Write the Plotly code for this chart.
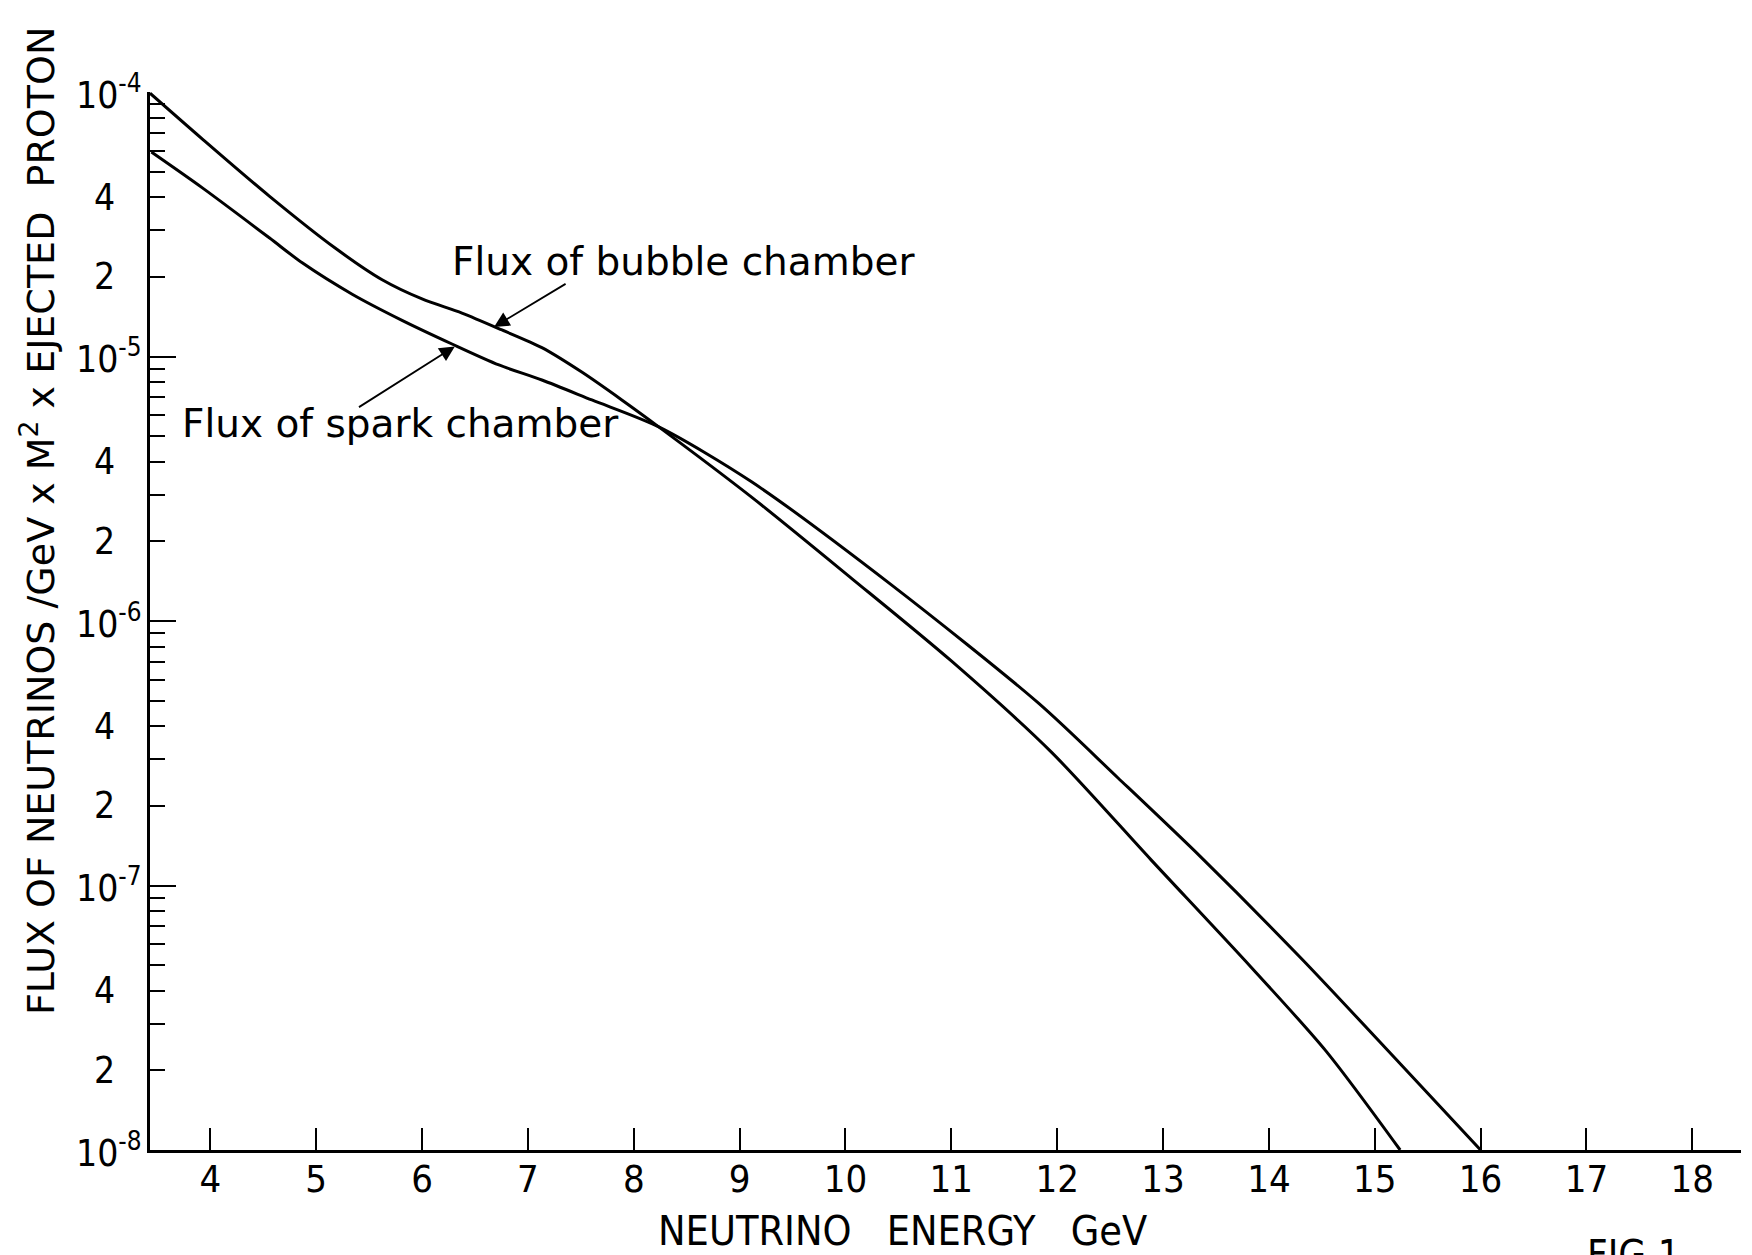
import math
import plotly.graph_objects as go

# Neutrino energy (GeV) and flux for the two beams
energy_bubble = [3.43, 3.925, 4.557, 5.179, 5.623, 6.0, 6.377, 6.755, 7.132, 7.509, 7.887, 8.236,
                 9.113, 10.057, 11.0, 11.943, 12.887, 13.83, 14.538, 15.24]
flux_bubble = [9.9e-5, 6.64e-5, 4.04e-5, 2.57e-5, 1.95e-5, 1.65e-5, 1.46e-5, 1.26e-5, 1.08e-5, 8.73e-6, 6.85e-6, 5.42e-6,
               2.94e-6, 1.45e-6, 7.06e-7, 3.20e-7, 1.25e-7, 4.92e-8, 2.37e-8, 1.0e-8]

energy_spark = [3.443, 3.925, 4.557, 4.868, 5.34, 5.811, 6.283, 6.726, 7.132, 7.604, 8.236,
                9.113, 10.434, 11.821, 12.575, 13.358, 14.302, 15.245, 16.0]
flux_spark = [5.93e-5, 4.34e-5, 2.81e-5, 2.26e-5, 1.72e-5, 1.37e-5, 1.115e-5, 9.29e-6, 8.15e-6, 6.85e-6, 5.42e-6,
              3.36e-6, 1.37e-6, 4.90e-7, 2.55e-7, 1.28e-7, 5.32e-8, 2.11e-8, 1.0e-8]

x_ticks = list(range(4, 19))
decades = [-8, -7, -6, -5, -4]
labelled_mantissas = [2, 4]
minor_mantissas = [2, 3, 4, 5, 6, 7, 8, 9]

NARROW = "DejaVu Sans Condensed, DejaVu Sans"
TEXT = "DejaVu Sans"
INK = "black"

L, R, T, B = 150, 11, 92, 105
W, H = 1752, 1255
PW = W - L - R
PH = H - T - B


def px_to_paper_x(px):
    return (px - L) / PW


def px_to_paper_y(py):
    return (H - B - py) / PH


fig = go.Figure()
for xs, ys in ((energy_bubble, flux_bubble), (energy_spark, flux_spark)):
    fig.add_trace(go.Scatter(
        x=xs, y=ys, mode="lines",
        line=dict(color=INK, width=3, shape="spline", smoothing=0.8),
        showlegend=False, hoverinfo="skip",
    ))

annotations = []

# y tick labels: powers of ten and the 2 / 4 mantissas
for d in decades:
    annotations.append(dict(
        x=px_to_paper_x(144), xref="paper", xanchor="right",
        y=d, yref="y", yanchor="middle",
        text=f"10<sup>{d}</sup>", showarrow=False,
        font=dict(family=NARROW, size=37, color=INK),
    ))
    if d < -4:
        for m in labelled_mantissas:
            annotations.append(dict(
                x=px_to_paper_x(117), xref="paper", xanchor="right",
                y=d + math.log10(m), yref="y", yanchor="middle",
                text=str(m), showarrow=False,
                font=dict(family=NARROW, size=37, color=INK),
            ))

# curve labels with pointer arrows
annotations += [
    dict(x=px_to_paper_x(450), xref="paper", xanchor="left",
         y=px_to_paper_y(261), yref="paper", yanchor="middle",
         text="Flux of bubble chamber", showarrow=False,
         font=dict(family=TEXT, size=39, color=INK)),
    dict(x=px_to_paper_x(180), xref="paper", xanchor="left",
         y=px_to_paper_y(423), yref="paper", yanchor="middle",
         text="Flux of spark chamber", showarrow=False,
         font=dict(family=TEXT, size=39, color=INK)),
    dict(x=6.68, y=-4.888, xref="x", yref="y", ax=7.37, ay=-4.722,
         axref="x", ayref="y", text="", showarrow=True,
         arrowhead=2, arrowsize=1.7, arrowwidth=1.8, arrowcolor=INK),
    dict(x=6.31, y=-4.962, xref="x", yref="y", ax=5.39, ay=-5.195,
         axref="x", ayref="y", text="", showarrow=True,
         arrowhead=2, arrowsize=1.7, arrowwidth=1.8, arrowcolor=INK),
    # axis titles
    dict(x=px_to_paper_x(902), xref="paper", xanchor="center",
         y=px_to_paper_y(1231), yref="paper", yanchor="middle",
         text="NEUTRINO\u00a0\u00a0 ENERGY\u00a0\u00a0 GeV", showarrow=False,
         font=dict(family=NARROW, size=41, color=INK)),
    dict(x=px_to_paper_x(38), xref="paper", xanchor="center",
         y=px_to_paper_y(1017), yref="paper", yanchor="bottom",
         text="FLUX OF NEUTRINOS /GeV x M<sup>2</sup> x EJECTED\u00a0 PROTON",
         textangle=-90, showarrow=False,
         font=dict(family=TEXT, size=38, color=INK)),
    dict(x=px_to_paper_x(1585), xref="paper", xanchor="left",
         y=px_to_paper_y(1230), yref="paper", yanchor="top",
         text="FIG.1", showarrow=False,
         font=dict(family=NARROW, size=40, color=INK)),
]

minor_vals = [m * 10.0 ** d for d in decades[:-1] for m in minor_mantissas]

fig.update_layout(
    width=W, height=H,
    margin=dict(l=L, r=R, t=T, b=B),
    paper_bgcolor="white", plot_bgcolor="white",
    annotations=annotations,
    xaxis=dict(
        range=[3.43, 18.46], tickvals=x_ticks, ticktext=[str(v) for v in x_ticks],
        ticks="inside", ticklen=22, tickwidth=2.2, tickcolor=INK,
        ticklabelstandoff=-6,
        showline=True, linewidth=2.5, linecolor=INK,
        showgrid=False, zeroline=False,
        tickfont=dict(family=NARROW, size=38, color=INK),
    ),
    yaxis=dict(
        type="log", range=[-8, -4],
        tickvals=[10.0 ** d for d in decades],
        ticks="inside", ticklen=26, tickwidth=2.2, tickcolor=INK,
        showticklabels=False,
        showline=True, linewidth=2.5, linecolor=INK,
        showgrid=False, zeroline=False,
        minor=dict(tickvals=minor_vals, ticks="inside", ticklen=15,
                   tickwidth=2, tickcolor=INK, showgrid=False),
    ),
)

fig.write_html("out.html")
